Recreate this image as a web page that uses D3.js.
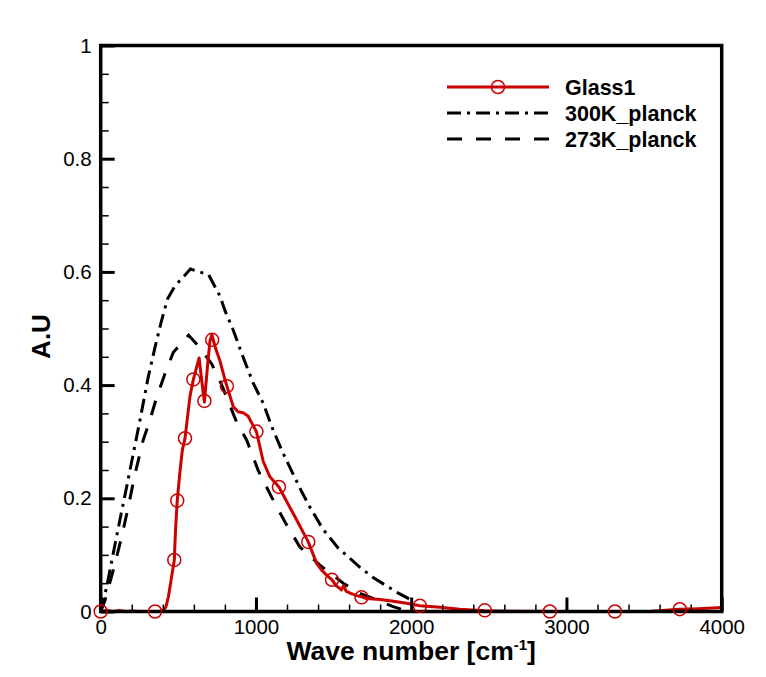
<!DOCTYPE html>
<html>
<head>
<meta charset="utf-8">
<script src="https://cdn.jsdelivr.net/npm/d3@7"></script>
<style>
  html, body { margin: 0; padding: 0; background: #fff; }
  svg { display: block; font-family: "Liberation Sans", Arial, sans-serif; }
</style>
</head>
<body>
<svg id="chart" width="766" height="677"></svg>
<script>
// ---------------- data ----------------
const xTickValues = [0, 1000, 2000, 3000, 4000];
const xTickLabels = ["0", "1000", "2000", "3000", "4000"];
const yTickValues = [0, 0.2, 0.4, 0.6, 0.8, 1];
const yTickLabels = ["0", "0.2", "0.4", "0.6", "0.8", "1"];

const seriesNames = ["Glass1", "300K_planck", "273K_planck"];

// 300K Planck curve (wave number, A.U)
const wn300 = [0, 39, 81, 124, 167, 210, 253, 306, 350, 393, 430, 478, 578, 695, 769, 800, 854, 908, 983, 1047, 1101, 1166, 1230, 1294, 1348, 1433, 1530, 1605, 1670, 1755, 1842, 1920, 1995];
const p300  = [0, 0.044, 0.103, 0.162, 0.22, 0.279, 0.338, 0.414, 0.467, 0.515, 0.552, 0.575, 0.605, 0.595, 0.557, 0.532, 0.497, 0.456, 0.403, 0.368, 0.327, 0.285, 0.248, 0.212, 0.184, 0.145, 0.112, 0.094, 0.078, 0.060, 0.045, 0.032, 0.021];

// 273K Planck curve
const wn273 = [0, 28, 81, 135, 178, 221, 274, 317, 361, 414, 468, 566, 630, 716, 780, 876, 940, 1015, 1101, 1187, 1283, 1412, 1562, 1670, 1755, 1884, 1949, 2000];
const p273  = [0, 0.02, 0.073, 0.132, 0.185, 0.243, 0.303, 0.338, 0.379, 0.42, 0.458, 0.488, 0.469, 0.437, 0.40, 0.334, 0.303, 0.249, 0.202, 0.158, 0.114, 0.082, 0.050, 0.032, 0.023, 0.0085, 0.003, 0];

// Glass1 measured curve
const wnGlass = [0, 40, 80, 120, 160, 200, 250, 300, 350, 380, 404, 420, 436, 453, 474, 482, 493, 511, 526, 543, 575, 597, 634, 652, 668, 690, 704, 716, 740, 768, 800, 813, 854, 885, 918, 950, 975, 1003, 1047, 1090, 1148, 1240, 1337, 1391, 1423, 1460, 1490, 1515, 1535, 1550, 1565, 1580, 1610, 1650, 1680, 1713, 1800, 1863, 1970, 2056, 2185, 2314, 2474, 2650, 2893, 3100, 3312, 3550, 3680, 3730, 3850, 4000];
const glass   = [0, 0.002, 0, 0.002, 0, 0.001, 0, 0, 0, 0, 0.002, 0.008, 0.026, 0.055, 0.091, 0.144, 0.196, 0.249, 0.285, 0.306, 0.38, 0.41, 0.448, 0.405, 0.37, 0.44, 0.478, 0.489, 0.465, 0.443, 0.41, 0.398, 0.362, 0.353, 0.351, 0.345, 0.332, 0.318, 0.265, 0.238, 0.22, 0.173, 0.123, 0.085, 0.073, 0.063, 0.056, 0.046, 0.042, 0.038, 0.046, 0.036, 0.032, 0.028, 0.026, 0.023, 0.021, 0.019, 0.0145, 0.010, 0.0074, 0.0039, 0.0015, 0.0005, 0, 0, 0, 0.0005, 0.003, 0.004, 0.005, 0.007];

// Glass1 symbol positions
const wnGlassMarks = [0, 350, 474, 493, 543, 597, 668, 718, 813, 1003, 1148, 1337, 1490, 1680, 2056, 2474, 2893, 3312, 3730];
const glassMarks   = [0, 0, 0.091, 0.196, 0.306, 0.41, 0.372, 0.48, 0.398, 0.318, 0.22, 0.123, 0.056, 0.025, 0.01, 0.002, 0, 0, 0.004];

// ---------------- drawing ----------------
const svg = d3.select("#chart");
const pL = 100.7, pR = 721.7, pT = 45.5, pB = 611.5;
const x = d3.scaleLinear().domain([0, 4000]).range([pL, pR]);
const y = d3.scaleLinear().domain([0, 1]).range([pB, pT]);

const RED = "#cc0000";
const zip = (a, b) => a.map((v, i) => [v, b[i]]);
const line = d3.line().x(d => x(d[0])).y(d => y(d[1]));

const plot = svg.append("g");
plot.append("path").datum(zip(wn300, p300)).attr("d", line)
  .attr("fill", "none").attr("stroke", "#000").attr("stroke-width", 3)
  .attr("stroke-dasharray", "14,6,3,6");
plot.append("path").datum(zip(wn273, p273)).attr("d", line)
  .attr("fill", "none").attr("stroke", "#000").attr("stroke-width", 3)
  .attr("stroke-dasharray", "15,14");
plot.append("path").datum(zip(wnGlass, glass)).attr("d", line)
  .attr("fill", "none").attr("stroke", RED).attr("stroke-width", 3)
  .attr("stroke-linejoin", "round");

// axes: minor ticks
const xMinor = d3.range(0, 4001, 200).filter(v => v % 1000 !== 0);
const yMinor = d3.range(0, 21).map(i => i * 0.05).filter((v, i) => i % 4 !== 0);

svg.append("g").attr("transform", `translate(0,${pB})`)
  .call(d3.axisBottom(x).tickValues(xMinor).tickSize(-7).tickFormat(""))
  .call(g => g.select(".domain").remove())
  .call(g => g.selectAll("line").attr("stroke-width", 1.5));
svg.append("g").attr("transform", `translate(${pL},0)`)
  .call(d3.axisLeft(y).tickValues(yMinor).tickSize(-8).tickFormat(""))
  .call(g => g.select(".domain").remove())
  .call(g => g.selectAll("line").attr("stroke-width", 1.5));

// major ticks + labels
svg.append("g").attr("transform", `translate(0,${pB})`)
  .call(d3.axisBottom(x).tickValues(xTickValues).tickSizeInner(-14).tickSizeOuter(0)
    .tickPadding(8).tickFormat((d, i) => xTickLabels[i]))
  .call(g => g.select(".domain").remove())
  .call(g => g.selectAll("line").attr("stroke-width", 3))
  .call(g => g.selectAll("text").attr("font-size", 20.5).attr("fill", "#000")
    .attr("font-family", '"Liberation Sans", Arial, sans-serif'));
svg.append("g").attr("transform", `translate(${pL},0)`)
  .call(d3.axisLeft(y).tickValues(yTickValues).tickSizeInner(-14).tickSizeOuter(0)
    .tickPadding(9).tickFormat((d, i) => yTickLabels[i]))
  .call(g => g.select(".domain").remove())
  .call(g => g.selectAll("line").attr("stroke-width", 3))
  .call(g => g.selectAll("text").attr("font-size", 20.5).attr("fill", "#000")
    .attr("font-family", '"Liberation Sans", Arial, sans-serif'));

// frame
svg.append("rect").attr("x", pL).attr("y", pT)
  .attr("width", pR - pL).attr("height", pB - pT)
  .attr("fill", "none").attr("stroke", "#000").attr("stroke-width", 3.5);

// markers
svg.append("g").selectAll("circle").data(zip(wnGlassMarks, glassMarks)).join("circle")
  .attr("cx", d => x(d[0])).attr("cy", d => y(d[1])).attr("r", 6.5)
  .attr("fill", "none").attr("stroke", RED).attr("stroke-width", 1.5);

// axis titles
const xt = svg.append("text").attr("x", (pL + pR) / 2).attr("y", 660)
  .attr("text-anchor", "middle").attr("font-size", 26.5).attr("font-weight", "bold");
xt.append("tspan").text("Wave number [cm");
xt.append("tspan").attr("font-size", 15).attr("dy", -10).text("-1");
xt.append("tspan").attr("dy", 10).text("]");

svg.append("text")
  .attr("transform", `translate(50,${(pT + pB) / 2 + 8}) rotate(-90)`)
  .attr("text-anchor", "middle").attr("font-size", 26).attr("font-weight", "bold")
  .text("A.U");

// legend
const legendStyles = [
  { stroke: RED, dash: null, marker: true },
  { stroke: "#000", dash: "14,6,3,6", marker: false },
  { stroke: "#000", dash: "15,14", marker: false }
];
const lg = svg.append("g");
seriesNames.forEach((name, i) => {
  const yy = 87 + i * 26;
  const st = legendStyles[i];
  lg.append("line").attr("x1", 447).attr("x2", 549).attr("y1", yy).attr("y2", yy)
    .attr("stroke", st.stroke).attr("stroke-width", 3)
    .attr("stroke-dasharray", st.dash);
  if (st.marker) {
    lg.append("circle").attr("cx", 498).attr("cy", yy).attr("r", 6.5)
      .attr("fill", "none").attr("stroke", RED).attr("stroke-width", 1.5);
  }
  lg.append("text").attr("x", 565).attr("y", yy + 7.5)
    .attr("font-size", 21.5).attr("font-weight", "bold").text(name);
});
</script>
</body>
</html>
